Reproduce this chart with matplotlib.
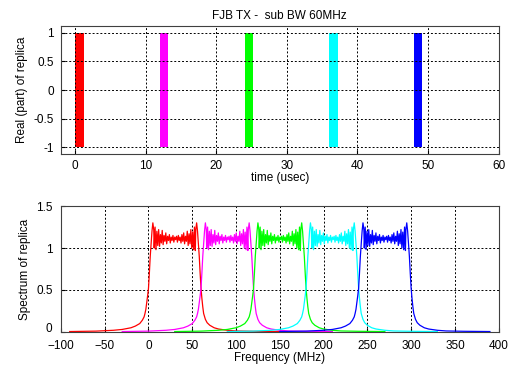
import matplotlib.pyplot as plt
import numpy as np

plt.rcParams['font.family'] = ['Liberation Sans', 'DejaVu Sans']
plt.rcParams['font.size'] = 8.5

colors = ['#ff0000', '#ff00ff', '#00ff00', '#00ffff', '#0000ff']

# top panel: pulse start (usec), pulse length (usec), amplitude range
pulse_start = [0, 12, 24, 36, 48]
pulse_len = [1.2, 1.2, 1.2, 1.2, 1.2]
pulse_lo, pulse_hi = -1, 1

# bottom panel: sub-band start frequency (MHz)
band_start = [0, 60, 120, 180, 240]

# spectrum profile of one sub-band, relative to its start frequency
skirt_f = [-90, -60, -40, -30, -20, -15, -10, -7, -5, -4, -3, -2, -1, 0, 1, 2, 3, 4, 5, 6]
skirt_v = [0.005, 0.01, 0.02, 0.03, 0.05, 0.07, 0.1, 0.14, 0.18, 0.22, 0.27, 0.35, 0.43,
           0.52, 0.7, 0.9, 1.05, 1.2, 1.3, 1.22]
ripple_v = [1.0, 1.25, 0.98, 1.2, 1.03, 1.22, 1.02, 1.16, 1.06, 1.21, 1.04, 1.15, 1.08, 1.18,
            1.05, 1.14, 1.09, 1.16, 1.06, 1.13, 1.09, 1.15, 1.07, 1.13, 1.1, 1.14, 1.07, 1.15,
            1.09, 1.13, 1.06, 1.16, 1.08, 1.18, 1.05, 1.14, 1.08, 1.2, 1.03, 1.17, 1.05, 1.22,
            1.0, 1.19, 0.98, 1.25, 0.97]
tail_f = [54, 55, 56, 57, 58, 59, 60, 61, 62, 63, 65, 67, 70, 75, 80, 90, 100, 120, 150]
tail_v = [1.22, 1.3, 1.2, 1.05, 0.9, 0.7, 0.52, 0.4, 0.3, 0.22, 0.15, 0.11, 0.08, 0.05,
          0.035, 0.02, 0.012, 0.008, 0.005]

prof_f = np.concatenate([skirt_f, np.linspace(6.5, 53.5, len(ripple_v)), tail_f])
prof_v = np.concatenate([skirt_v, ripple_v, tail_v])

fig = plt.figure(figsize=(5.12, 3.66), dpi=100)


def style(ax):
    ax.grid(True, color='black', linestyle=(0, (2, 2)), linewidth=0.7)
    ax.tick_params(direction='in', length=3, labelsize=8.5)
    ax.tick_params(axis='x', pad=4)
    ax.tick_params(axis='y', pad=5)
    for s in ax.spines.values():
        s.set_color('#404040')


ax1 = fig.add_axes([0.119, 0.579, 0.855, 0.350])
for s, w, c in zip(pulse_start, pulse_len, colors):
    ax1.bar(s, pulse_hi - pulse_lo, width=w, bottom=pulse_lo, align='edge', color=c)
ax1.set_xlim(-2, 60)
ax1.set_ylim(-1.12, 1.12)
ax1.set_xticks(range(0, 61, 10))
ax1.set_yticks([-1, -0.5, 0, 0.5, 1])
ax1.set_yticklabels(['-1', '-0.5', '0', '0.5', '1'])
ax1.set_xlabel('time (usec)', labelpad=0)
ax1.set_ylabel('Real (part) of replica')
ax1.set_title('FJB TX -  sub BW 60MHz', fontsize=8.5, pad=5)
style(ax1)

ax2 = fig.add_axes([0.119, 0.093, 0.855, 0.344])
for f0, c in zip(band_start, colors):
    ax2.plot(prof_f + f0, prof_v, color=c, linewidth=0.9)
ax2.set_xlim(-100, 400)
ax2.set_ylim(0, 1.5)
ax2.set_xticks(range(-100, 401, 50))
ax2.set_yticks([0, 0.5, 1, 1.5])
ax2.set_yticklabels(['0', '0.5', '1', '1.5'])
ax2.set_xlabel('Frequency (MHz)', labelpad=0)
ax2.set_ylabel('Spectrum of replica')
style(ax2)
ax2.tick_params(axis='x', pad=5.5)
ax2.tick_params(axis='y', pad=6)
ax2.get_yticklabels()[0].set_va('baseline')

fig.savefig('out.png', dpi=100)
